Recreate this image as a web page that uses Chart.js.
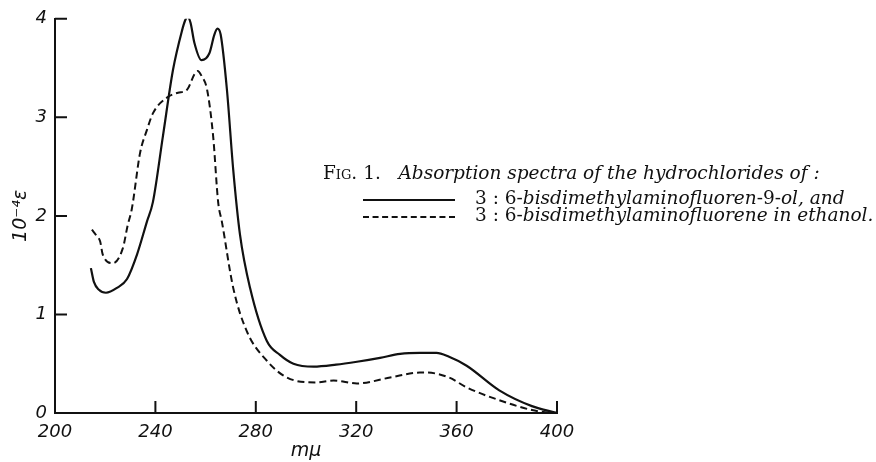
<!DOCTYPE html>
<html>
<head>
<meta charset="utf-8">
<script src="https://cdn.jsdelivr.net/npm/chart.js@4.4.1/dist/chart.umd.min.js"></script>
<style>
  html, body { margin: 0; padding: 0; background: #fff; }
  #wrap { position: relative; width: 876px; height: 462px; }
  #caption { position: absolute; left: 323px; top: 0; font-family: "DejaVu Serif", serif; color: #111; font-size: 18.5px; line-height: 22px; }
  #caption .row { position: absolute; white-space: nowrap; }
  #caption i { font-style: italic; }
  .sc { font-variant: small-caps; }
  .sample { position: absolute; left: 40px; width: 92px; height: 0; border-top: 2px solid #111; }
  .sample.dash { border-top: 2px dashed #111; }
</style>
</head>
<body>
<div id="wrap">
  <canvas id="spectra" width="876" height="462"></canvas>
  <div id="caption">
    <div class="row" style="left:0; top:162px;"><span class="sc">Fig.</span> 1.&nbsp;&nbsp;&nbsp;<i>Absorption spectra of the hydrochlorides of :</i></div>
    <div class="row" style="left:0; top:187px; width:560px;"><span class="sample" style="top:12px;"></span><span style="position:absolute; left:152px;">3 : 6-<i>bisdimethylaminofluoren</i>-9-<i>ol, and</i></span></div>
    <div class="row" style="left:0; top:204px; width:560px;"><span class="sample dash" style="top:12px;"></span><span style="position:absolute; left:152px;">3 : 6-<i>bisdimethylaminofluorene in ethanol.</i></span></div>
  </div>
</div>
<script>
// wavelengths (m\u03bc) and 10^-4 epsilon
const olWave = [214.3, 215.5, 217.5, 220.3, 224.7, 228.7, 232.7, 236.6, 239, 243, 247, 250.6, 251.8, 252.8, 254, 255.5, 258.4, 261.5, 263.5, 264.7, 266, 268.5, 271, 273.7, 277.7, 284.4, 289.6, 295, 303, 312, 320.3, 329.5, 337.5, 345.4, 352, 357, 364, 377, 390, 400];
const olEps  = [1.47, 1.33, 1.25, 1.22, 1.27, 1.36, 1.61, 1.94, 2.14, 2.81, 3.48, 3.88, 3.98, 4.02, 3.96, 3.76, 3.58, 3.65, 3.84, 3.90, 3.84, 3.28, 2.47, 1.81, 1.27, 0.73, 0.59, 0.50, 0.47, 0.49, 0.52, 0.56, 0.60, 0.61, 0.61, 0.57, 0.48, 0.23, 0.07, 0.0];

const eneWave = [214.7, 216.5, 218, 219, 223, 227, 229, 230.6, 233.9, 236.6, 239, 244.6, 249, 252.6, 255.6, 256.8, 258.4, 260.6, 263, 265, 266.5, 271, 276.4, 284.4, 292.4, 304, 311, 320.3, 333.5, 345.4, 348, 357, 364, 377, 390, 398];
const eneEps  = [1.86, 1.80, 1.74, 1.61, 1.52, 1.67, 1.91, 2.07, 2.64, 2.87, 3.04, 3.20, 3.25, 3.28, 3.44, 3.47, 3.42, 3.28, 2.81, 2.14, 1.94, 1.27, 0.83, 0.53, 0.36, 0.31, 0.33, 0.30, 0.36, 0.41, 0.41, 0.36, 0.26, 0.13, 0.03, 0.0];

const xTicks = [200, 240, 280, 320, 360, 400];
const yTicks = [0, 1, 2, 3, 4];

const ink = '#111';

function toPoints(xs, ys) {
    return xs.map((x, i) => ({ x: x, y: ys[i] }));
}

// short tick marks pointing into the plot, like the original
const innerTicks = {
    id: 'innerTicks',
    afterDraw(chart) {
        const ctx = chart.ctx;
        const xs = chart.scales.x, ys = chart.scales.y;
        ctx.save();
        ctx.strokeStyle = ink;
        ctx.lineWidth = 2;
        ctx.beginPath();
        xTicks.slice(1).forEach(v => {
            const px = xs.getPixelForValue(v);
            ctx.moveTo(px, ys.bottom);
            ctx.lineTo(px, ys.bottom - 12);
        });
        yTicks.slice(1).forEach(v => {
            const py = ys.getPixelForValue(v);
            ctx.moveTo(xs.left, py);
            ctx.lineTo(xs.left + 12, py);
        });
        ctx.stroke();
        ctx.restore();
    }
};

const ctx = document.getElementById('spectra').getContext('2d');
new Chart(ctx, {
    type: 'line',
    data: {
        datasets: [
            {
                label: '3 : 6-bisdimethylaminofluoren-9-ol',
                data: toPoints(olWave, olEps),
                borderColor: ink,
                borderWidth: 2.2,
                pointRadius: 0,
                fill: false,
                cubicInterpolationMode: 'monotone'
            },
            {
                label: '3 : 6-bisdimethylaminofluorene in ethanol',
                data: toPoints(eneWave, eneEps),
                borderColor: ink,
                borderWidth: 2,
                borderDash: [7, 4],
                pointRadius: 0,
                fill: false,
                cubicInterpolationMode: 'monotone'
            }
        ]
    },
    options: {
        responsive: false,
        animation: false,
        layout: { padding: { top: 15, right: 319, left: 0, bottom: 0 } },
        plugins: { legend: { display: false }, tooltip: { enabled: false } },
        scales: {
            x: {
                type: 'linear',
                min: 200,
                max: 400,
                afterFit(scale) { scale.height = 49; },
                afterBuildTicks(scale) { scale.ticks = xTicks.map(v => ({ value: v })); },
                grid: { display: false, drawTicks: false },
                border: { display: true, width: 2, color: ink },
                ticks: {
                    padding: 9,
                    color: ink,
                    font: { family: 'DejaVu Sans', size: 18, style: 'italic' }
                },
                title: {
                    display: true,
                    text: 'm\u03bc',
                    color: ink,
                    padding: 0,
                    font: { family: 'DejaVu Sans', size: 19, style: 'italic' }
                }
            },
            y: {
                min: 0,
                max: 4,
                afterFit(scale) { scale.width = 55; },
                afterBuildTicks(scale) { scale.ticks = yTicks.map(v => ({ value: v })); },
                grid: { display: false, drawTicks: false },
                border: { display: true, width: 2, color: ink },
                ticks: {
                    padding: 8,
                    color: ink,
                    font: { family: 'DejaVu Sans', size: 18, style: 'italic' }
                },
                title: {
                    display: true,
                    text: '10\u207b\u2074\u03b5',
                    color: ink,
                    padding: { top: 10, bottom: 0 },
                    font: { family: 'DejaVu Sans', size: 19, style: 'italic' }
                }
            }
        }
    },
    plugins: [innerTicks]
});
</script>
</body>
</html>
